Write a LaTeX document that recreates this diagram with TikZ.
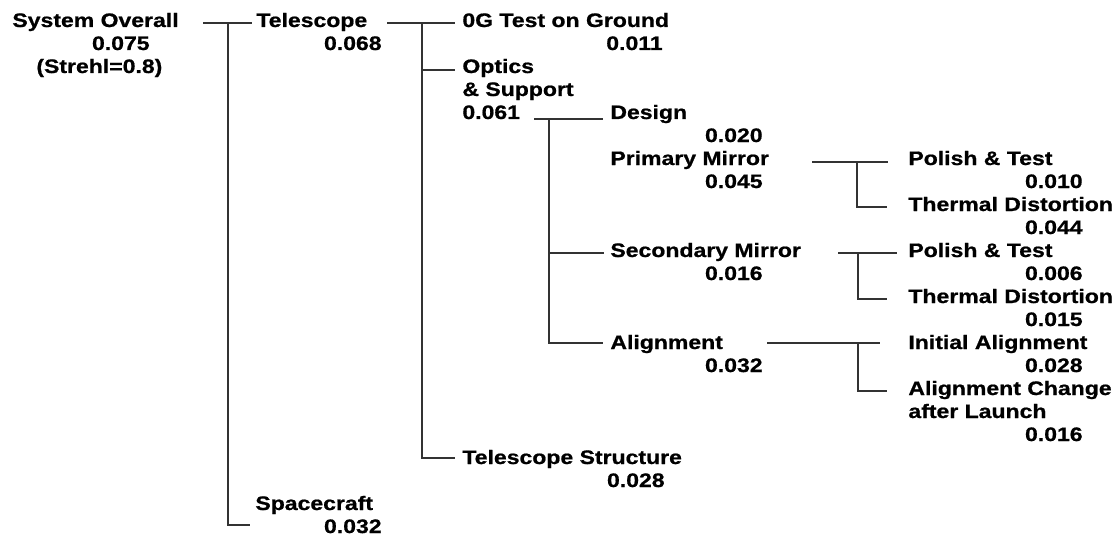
\documentclass[tikz,border=0pt]{standalone}
\usepackage{fontspec}
\setmainfont{Liberation Sans}[FakeStretch=1.18,BoldFeatures={FakeBold=0.8}]
\begin{document}
\begin{tikzpicture}[x=0.5pt,y=-0.5pt,
    every node/.style={font=\bfseries\fontsize{9.75}{11.5}\selectfont},
    lbl/.style={anchor=base west,inner sep=0pt,align=left},
    val/.style={anchor=base east,inner sep=0pt},
    wire/.style={line width=0.6pt,draw=black!80}]
    \useasboundingbox (0,0) rectangle (1112,535);
    % error budget entries (two-line labels sit on their last line)
    \node[lbl] (so) at (12,27) {System Overall};
    \node[val] (so-v) at (150,50) {0.075};
    \node[lbl] (so-s) at (36,73) {(Strehl=0.8)};
    \node[lbl] (tel) at (256,27) {Telescope};
    \node[val] (tel-v) at (382,50) {0.068};
    \node[lbl] (sc) at (255,510) {Spacecraft};
    \node[val] (sc-v) at (382,533) {0.032};
    \node[lbl] (og) at (462,27) {0G Test on Ground};
    \node[val] (og-v) at (663,50) {0.011};
    \node[lbl] (opt) at (462,96) {Optics\\\& Support};
    \node[lbl] (opt-v) at (462,119) {0.061};
    \node[lbl] (ts) at (462,464) {Telescope Structure};
    \node[val] (ts-v) at (665,487) {0.028};
    \node[lbl] (des) at (610,119) {Design};
    \node[val] (des-v) at (763,142) {0.020};
    \node[lbl] (pm) at (610,165) {Primary Mirror};
    \node[val] (pm-v) at (763,188) {0.045};
    \node[lbl] (sm) at (610,257) {Secondary Mirror};
    \node[val] (sm-v) at (763,280) {0.016};
    \node[lbl] (al) at (610,349) {Alignment};
    \node[val] (al-v) at (763,372) {0.032};
    \node[lbl] (pt1) at (908,165) {Polish \& Test};
    \node[val] (pt1-v) at (1083,188) {0.010};
    \node[lbl] (td1) at (908,211) {Thermal Distortion};
    \node[val] (td1-v) at (1083,234) {0.044};
    \node[lbl] (pt2) at (908,257) {Polish \& Test};
    \node[val] (pt2-v) at (1083,280) {0.006};
    \node[lbl] (td2) at (908,303) {Thermal Distortion};
    \node[val] (td2-v) at (1083,326) {0.015};
    \node[lbl] (ia) at (908,349) {Initial Alignment};
    \node[val] (ia-v) at (1083,372) {0.028};
    \node[lbl] (ac) at (908,418) {Alignment Change\\after Launch};
    \node[val] (ac-v) at (1083,441) {0.016};
    % junctions
    \coordinate (j1) at (228,23);  \coordinate (j1e) at (228,525);
    \coordinate (j2) at (422,23);  \coordinate (j2a) at (422,70);
    \coordinate (j2e) at (422,458);
    \coordinate (j3) at (549,119); \coordinate (j3a) at (549,253);
    \coordinate (j3e) at (549,343);
    \coordinate (j4) at (857,162); \coordinate (j4e) at (857,207);
    \coordinate (j5) at (858,253); \coordinate (j5e) at (858,299);
    \coordinate (j6) at (858,343); \coordinate (j6e) at (858,391);
    % tree lines
    \draw[wire] ([xshift=-12.5pt]j1) -- ([xshift=-2pt]tel.west |- j1);
    \draw[wire] (j1) -- (j1e) -- ([xshift=-2.5pt]sc.west |- j1e);
    \draw[wire] ([xshift=-17.5pt]j2) -- ([xshift=-3.5pt]og.west |- j2);
    \draw[wire] (j2a) -- ([xshift=-3.5pt]opt.west |- j2a);
    \draw[wire] (j2) -- (j2e) -- ([xshift=-3.5pt]ts.west |- j2e);
    \draw[wire] ([xshift=-7.5pt]j3) -- ([xshift=-3.5pt]des.west |- j3);
    \draw[wire] (j3a) -- ([xshift=-3pt]sm.west |- j3a);
    \draw[wire] (j3) -- (j3e) -- ([xshift=-3.5pt]al.west |- j3e);
    \draw[wire] ([xshift=-22.5pt]j4) -- ([xshift=-10pt]pt1.west |- j4);
    \draw[wire] (j4) -- (j4e) -- ([xshift=-10.5pt]td1.west |- j4e);
    \draw[wire] ([xshift=-10pt]j5) -- ([xshift=-5.5pt]pt2.west |- j5);
    \draw[wire] (j5) -- (j5e) -- ([xshift=-10.5pt]td2.west |- j5e);
    \draw[wire] ([xshift=-45.5pt]j6) -- ([xshift=-14pt]ia.west |- j6);
    \draw[wire] (j6) -- (j6e) -- ([xshift=-10.5pt]ac.west |- j6e);
\end{tikzpicture}
\end{document}
